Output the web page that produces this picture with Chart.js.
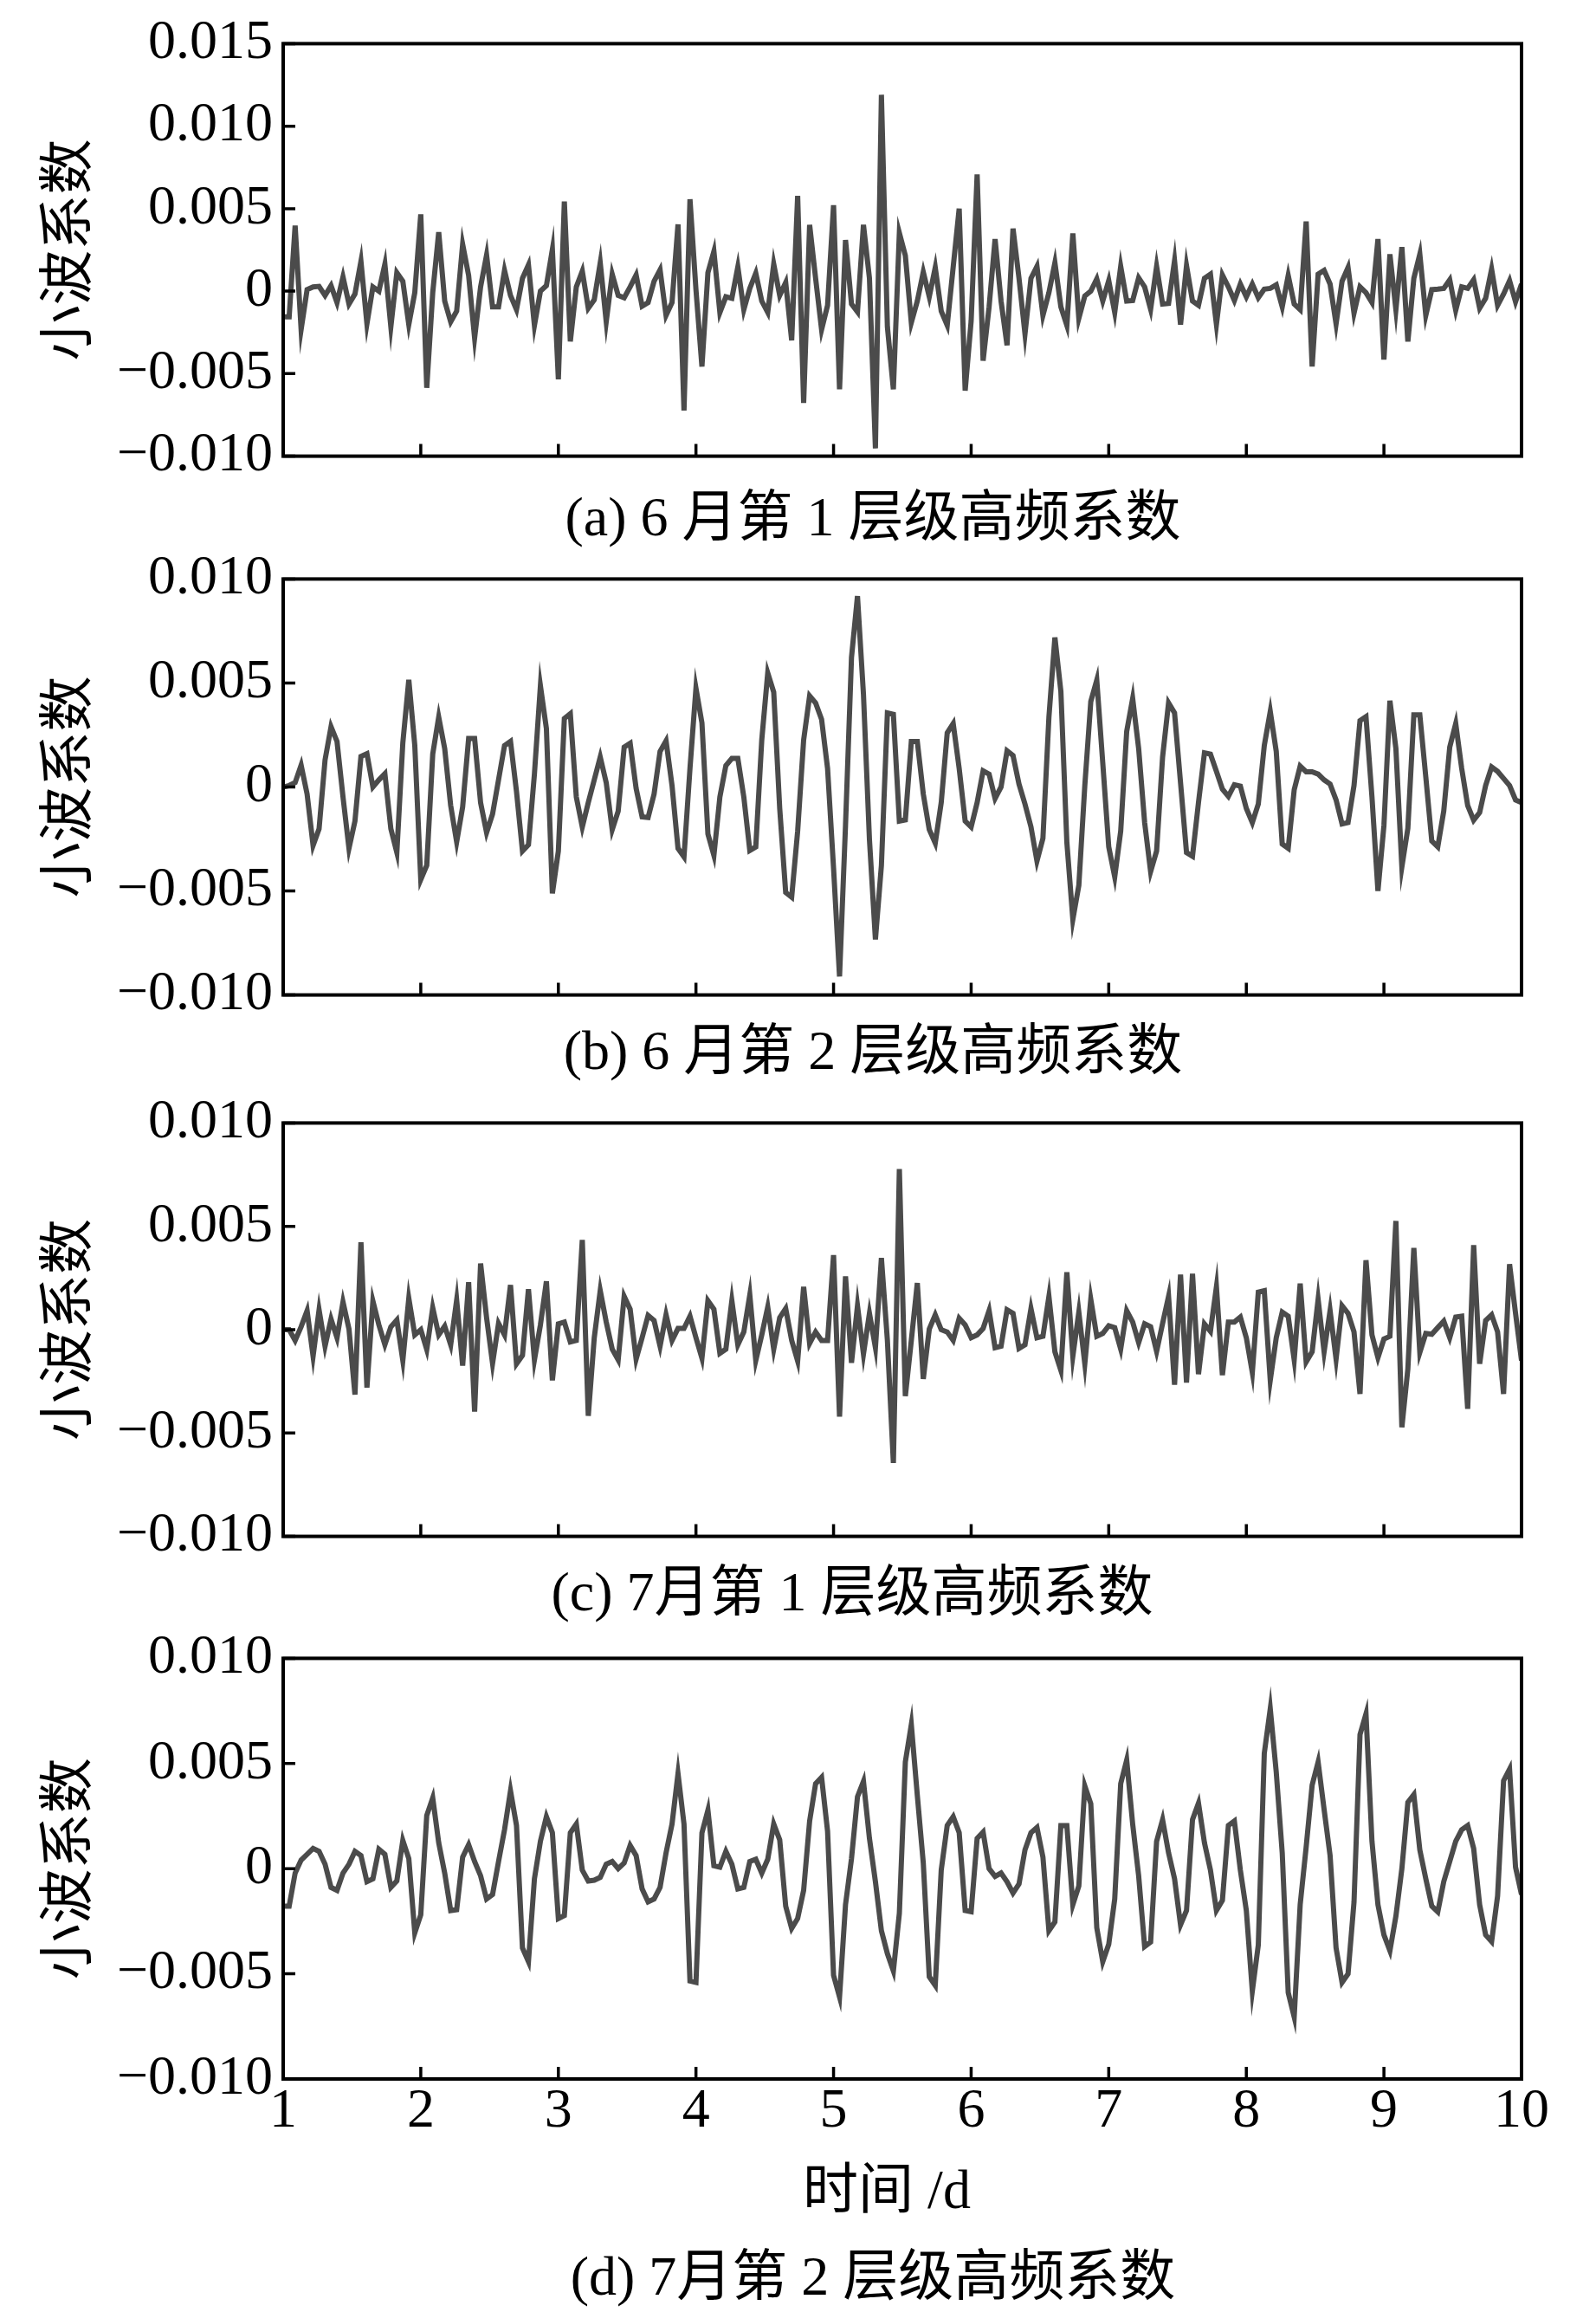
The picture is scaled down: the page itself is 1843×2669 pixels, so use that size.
<!DOCTYPE html>
<html>
<head>
<meta charset="utf-8">
<title>小波系数</title>
<script src="https://cdn.jsdelivr.net/npm/chart.js@4"></script>
<style>
    body { margin: 0; background: #fff; }
    #page { position: relative; width: 1843px; height: 2669px; background: #fff; }
    canvas { position: absolute; left: 0; }
    .cap {
        position: absolute;
        font-size: 64px;
        line-height: 64px;
        font-family: "Liberation Serif", "Noto Sans CJK SC", serif;
        color: #000;
        white-space: pre;
        transform: translateX(-50%);
    }
</style>
</head>
<body>
<div id="page">
    <canvas id="chartA" width="1843" height="577" style="top:0px"></canvas>
    <div class="cap" style="left:1008px; top:565px">(a) 6 月第 1 层级高频系数</div>

    <canvas id="chartB" width="1843" height="581" style="top:618px"></canvas>
    <div class="cap" style="left:1008px; top:1181px">(b) 6 月第 2 层级高频系数</div>

    <canvas id="chartC" width="1843" height="578" style="top:1246px"></canvas>
    <div class="cap" style="left:984px; top:1806px">(c) 7月第 1 层级高频系数</div>

    <canvas id="chartD" width="1843" height="701" style="top:1864px"></canvas>
    <div class="cap" style="left:1024px; top:2496px">时间 /d</div>
    <div class="cap" style="left:1008px; top:2596px">(d) 7月第 2 层级高频系数</div>
</div>

<script>
// x axis: days 1..10, 23 samples per day (208 samples per series)
const days = [1, 2, 3, 4, 5, 6, 7, 8, 9, 10];
const samplesPerDay = 23;

const yTicksWide = [-0.010, -0.005, 0, 0.005, 0.010, 0.015];
const yTicksNarrow = [-0.010, -0.005, 0, 0.005, 0.010];

// (a) June, level 1
const juneLevel1 = [
    -0.00155, -0.00155, 0.00397, -0.00233, 0.00009, 0.00026, 0.00029, -0.00026, 0.00034, -0.00069,
    0.00086, -0.00078, -0.00017, 0.00181, -0.00198, 0.00026, 0, 0.00164, -0.00216, 0.00112,
    0.00060, -0.00202, -0.00009, 0.00466, -0.00586, -0.00009, 0.00357, -0.00060, -0.00186, -0.00121,
    0.00284, 0.00095, -0.00284, 0.00026, 0.00219, -0.00095, -0.00095, 0.00126, -0.00026, -0.00112,
    0.00078, 0.00159, -0.00207, 0, 0.00034, 0.00253, -0.00534, 0.00543, -0.00305, 0.00026,
    0.00121, -0.00103, -0.00052, 0.00172, -0.00184, 0.00103, -0.00026, -0.00040, 0.00026, 0.00098,
    -0.00091, -0.00069, 0.00060, 0.00129, -0.00147, -0.00069, 0.00405, -0.00724, 0.00557, 0.00009,
    -0.00457, 0.00112, 0.00241, -0.00129, -0.00034, -0.00043, 0.00147, -0.00112, 0.00017, 0.00109,
    -0.00060, -0.00129, 0.00164, -0.00026, 0.00052, -0.00298, 0.00578, -0.00678, 0.00402, 0.00078,
    -0.00233, -0.00086, 0.00521, -0.00595, 0.00310, -0.00078, -0.00126, 0.00402, 0.00078, -0.00953,
    0.01190, -0.00216, -0.00595, 0.00353, 0.00216, -0.00190, -0.00060, 0.00116, -0.00034, 0.00143,
    -0.00121, -0.00207, 0.00147, 0.00500, -0.00603, -0.00181, 0.00707, -0.00422, -0.00095, 0.00316,
    -0.00060, -0.00328, 0.00379, 0.00078, -0.00259, 0.00078, 0.00150, -0.00147, -0.00009, 0.00172,
    -0.00095, -0.00207, 0.00350, -0.00164, -0.00029, 0, 0.00074, -0.00060, 0.00064, -0.00129,
    0.00150, -0.00060, -0.00057, 0.00081, 0.00026, -0.00109, 0.00150, -0.00078, -0.00074, 0.00184,
    -0.00202, 0.00155, -0.00060, -0.00086, 0.00078, 0.00103, -0.00202, 0.00098, 0.00026, -0.00057,
    0.00043, -0.00034, 0.00043, -0.00040, 0.00012, 0.00017, 0.00038, -0.00095, 0.00095, -0.00078,
    -0.00112, 0.00422, -0.00457, 0.00103, 0.00126, 0.00043, -0.00198, 0.00060, 0.00143, -0.00133,
    0.00026, -0.00009, -0.00069, 0.00316, -0.00414, 0.00224, -0.00112, 0.00267, -0.00305, 0.00078,
    0.00224, -0.00147, 0.00009, 0.00012, 0.00017, 0.00069, -0.00116, 0.00026, 0.00017, 0.00069,
    -0.00103, -0.00043, 0.00133, -0.00086, -0.00017, 0.00064, -0.00064, 0.00043
];

// (b) June, level 2
const juneLevel2 = [
    0, 0.00007, 0.00021, 0.00105, -0.00034, -0.00281, -0.00201, 0.00130, 0.00290, 0.00219,
    -0.00048, -0.00295, -0.00164, 0.00147, 0.00160, 0, 0.00034, 0.00064, -0.00201, -0.00315,
    0.00212, 0.00515, 0.00200, -0.00445, -0.00377, 0.00158, 0.00336, 0.00185, -0.00089, -0.00264,
    -0.00096, 0.00233, 0.00233, -0.00075, -0.00219, -0.00130, 0.00034, 0.00199, 0.00219, -0.00021,
    -0.00308, -0.00278, 0.00062, 0.00486, 0.00281, -0.00512, -0.00308, 0.00329, 0.00352, -0.00048,
    -0.00192, -0.00075, 0.00034, 0.00144, 0.00021, -0.00205, -0.00116, 0.00192, 0.00210, -0.00007,
    -0.00144, -0.00147, -0.00034, 0.00171, 0.00222, 0.00007, -0.00295, -0.00336, 0.00089, 0.00475,
    0.00308, -0.00226, -0.00329, -0.00048, 0.00103, 0.00137, 0.00137, -0.00048, -0.00305, -0.00288,
    0.00226, 0.00548, 0.00456, -0.00103, -0.00507, -0.00530, -0.00212, 0.00226, 0.00438, 0.00404,
    0.00325, 0.00089, -0.00390, -0.00911, -0.00185, 0.00623, 0.00918, 0.00445, -0.00253, -0.00733,
    -0.00377, 0.00356, 0.00349, -0.00164, -0.00158, 0.00219, 0.00219, -0.00034, -0.00205, -0.00270,
    -0.00075, 0.00260, 0.00305, 0.00089, -0.00164, -0.00192, -0.00075, 0.00078, 0.00062, -0.00055,
    0, 0.00174, 0.00151, 0.00014, -0.00082, -0.00192, -0.00356, -0.00247, 0.00336, 0.00719,
    0.00459, -0.00267, -0.00637, -0.00473, 0.00007, 0.00411, 0.00514, 0.00116, -0.00288, -0.00432,
    -0.00212, 0.00267, 0.00425, 0.00185, -0.00171, -0.00407, -0.00308, 0.00144, 0.00404, 0.00356,
    0.00021, -0.00315, -0.00333, -0.00075, 0.00164, 0.00158, 0.00075, -0.00010, -0.00045, 0.00011,
    0.00004, -0.00103, -0.00171, -0.00082, 0.00199, 0.00363, 0.00171, -0.00274, -0.00295, -0.00014,
    0.00100, 0.00073, 0.00073, 0.00062, 0.00034, 0.00014, -0.00062, -0.00178, -0.00171, 0.00007,
    0.00319, 0.00338, -0.00048, -0.00500, -0.00185, 0.00415, 0.00185, -0.00384, -0.00199, 0.00347,
    0.00347, 0.00048, -0.00260, -0.00288, -0.00116, 0.00192, 0.00305, 0.00089, -0.00089, -0.00160,
    -0.00123, 0.00007, 0.00096, 0.00075, 0.00041, 0.00007, -0.00062, -0.00075
];

// (c) July, level 1
const julyLevel1 = [
    0, 0, -0.00052, 0.00014, 0.00092, -0.00128, 0.00096, -0.00080, 0.00051, -0.00039,
    0.00134, 0.00003, -0.00314, 0.00423, -0.00280, 0.00138, 0.00023, -0.00073, 0.00014, 0.00047,
    -0.00149, 0.00152, -0.00025, 0, -0.00096, 0.00106, -0.00025, 0.00017, -0.00073, 0.00143,
    -0.00174, 0.00230, -0.00397, 0.00320, 0.00058, -0.00163, 0.00030, -0.00025, 0.00216, -0.00165,
    -0.00124, 0.00196, -0.00146, 0.00023, 0.00234, -0.00245, 0.00028, 0.00037, -0.00059, -0.00052,
    0.00434, -0.00417, -0.00039, 0.00189, 0.00037, -0.00094, -0.00146, 0.00161, 0.00099, -0.00142,
    -0.00039, 0.00069, 0.00044, -0.00080, 0.00072, -0.00052, 0.00006, 0.00006, 0.00065, -0.00039,
    -0.00138, 0.00140, 0.00099, -0.00114, -0.00094, 0.00140, -0.00073, -0.00011, 0.00168, -0.00149,
    -0.00025, 0.00110, -0.00094, 0.00058, 0.00102, -0.00052, -0.00152, 0.00207, -0.00066, -0.00011,
    -0.00052, -0.00052, 0.00361, -0.00421, 0.00258, -0.00160, 0.00116, -0.00118, 0.00079, -0.00087,
    0.00347, -0.00052, -0.00645, 0.00777, -0.00321, -0.00052, 0.00226, -0.00238, 0.00003, 0.00072,
    0, -0.00011, -0.00052, 0.00055, 0.00023, -0.00039, -0.00025, 0.00006, 0.00092, -0.00087,
    -0.00080, 0.00096, 0.00079, -0.00091, -0.00073, 0.00102, -0.00039, -0.00032, 0.00161, -0.00107,
    -0.00197, 0.00278, -0.00128, 0.00085, -0.00165, 0.00147, -0.00032, -0.00018, 0.00019, 0.00010,
    -0.00094, 0.00092, 0.00037, -0.00063, 0.00028, 0.00014, -0.00105, 0.00030, 0.00161, -0.00266,
    0.00267, -0.00256, 0.00271, -0.00215, 0.00028, -0.00008, 0.00207, -0.00220, 0.00037, 0.00037,
    0.00061, -0.00039, -0.00207, 0.00182, 0.00189, -0.00245, -0.00039, 0.00085, 0.00065, -0.00146,
    0.00223, -0.00156, -0.00107, 0.00147, -0.00107, 0.00092, -0.00142, 0.00116, 0.00079, -0.00011,
    -0.00311, 0.00336, -0.00025, -0.00135, -0.00045, -0.00032, 0.00526, -0.00472, -0.00190, 0.00395,
    -0.00110, -0.00018, -0.00022, 0.00010, 0.00041, -0.00039, 0.00061, 0.00065, -0.00383, 0.00409,
    -0.00165, 0.00044, 0.00072, -0.00011, -0.00311, 0.00317, 0.00079, -0.00149
];

// (d) July, level 2
const julyLevel2 = [
    -0.00178, -0.00178, -0.00021, 0.00041, 0.00068, 0.00096, 0.00082, 0.00021, -0.00089, -0.00103,
    -0.00021, 0.00021, 0.00082, 0.00062, -0.00062, -0.00048, 0.00092, 0.00068, -0.00089, -0.00058,
    0.00134, 0.00048, -0.00305, -0.00219, 0.00253, 0.00336, 0.00123, -0.00021, -0.00199, -0.00195,
    0.00055, 0.00114, 0.00034, -0.00034, -0.00144, -0.00123, 0.00034, 0.00185, 0.00370, 0.00205,
    -0.00377, -0.00442, -0.00048, 0.00130, 0.00247, 0.00171, -0.00237, -0.00223, 0.00171, 0.00212,
    -0.00007, -0.00059, -0.00055, -0.00041, 0.00021, 0.00034, 0, 0.00027, 0.00110, 0.00062,
    -0.00096, -0.00158, -0.00144, -0.00089, 0.00075, 0.00212, 0.00452, 0.00212, -0.00534, -0.00541,
    0.00170, 0.00278, 0.00014, 0.00007, 0.00082, 0.00021, -0.00096, -0.00089, 0.00034, 0.00045,
    -0.00021, 0.00045, 0.00212, 0.00137, -0.00178, -0.00284, -0.00237, -0.00103, 0.00226, 0.00404,
    0.00434, 0.00178, -0.00507, -0.00610, -0.00171, 0.00048, 0.00342, 0.00415, 0.00144, -0.00062,
    -0.00295, -0.00404, -0.00486, -0.00212, 0.00507, 0.00685, 0.00349, 0.00027, -0.00514, -0.00555,
    -0.00007, 0.00205, 0.00247, 0.00171, -0.00199, -0.00205, 0.00144, 0.00174, 0, -0.00037,
    -0.00021, -0.00062, -0.00116, -0.00073, 0.00089, 0.00171, 0.00196, 0.00055, -0.00295, -0.00253,
    0.00205, 0.00205, -0.00171, -0.00082, 0.00393, 0.00308, -0.00281, -0.00442, -0.00360, -0.00144,
    0.00404, 0.00516, 0.00212, -0.00034, -0.00370, -0.00349, 0.00130, 0.00233, 0.00075, -0.00048,
    -0.00267, -0.00199, 0.00233, 0.00311, 0.00123, -0.00007, -0.00199, -0.00151, 0.00205, 0.00226,
    -0.00007, -0.00199, -0.00582, -0.00363, 0.00548, 0.00760, 0.00459, 0.00075, -0.00589, -0.00705,
    -0.00171, 0.00103, 0.00397, 0.00507, 0.00281, 0.00062, -0.00377, -0.00541, -0.00500, -0.00158,
    0.00637, 0.00736, 0.00130, -0.00171, -0.00315, -0.00390, -0.00226, 0, 0.00315, 0.00352,
    0.00089, -0.00048, -0.00178, -0.00205, -0.00062, 0.00034, 0.00130, 0.00185, 0.00205, 0.00096,
    -0.00171, -0.00315, -0.00347, -0.00130, 0.00418, 0.00473, 0.00007, -0.00123
];

const serif = '"Liberation Serif", "Noto Sans CJK SC", serif';
const lineColor = '#4b4b4b';

function toPoints(values) {
    return values.map((v, i) => ({ x: days[0] + i / samplesPerDay, y: v }));
}

function formatTick(v) {
    if (Math.abs(v) < 1e-9) {
        return '0';
    }
    return (v < 0 ? '\u2212' : '') + Math.abs(v).toFixed(3);
}

// box around the plot and short tick marks pointing inwards
const frameAndTicks = {
    id: 'frameAndTicks',
    afterDatasetsDraw(chart) {
        const { ctx, chartArea: a, scales: { x, y } } = chart;
        ctx.save();
        ctx.strokeStyle = '#000';
        ctx.lineWidth = 3.5;
        ctx.beginPath();
        x.ticks.forEach(t => {
            const px = x.getPixelForValue(t.value);
            ctx.moveTo(px, a.bottom);
            ctx.lineTo(px, a.bottom - 14);
        });
        y.ticks.forEach(t => {
            const py = y.getPixelForValue(t.value);
            ctx.moveTo(a.left, py);
            ctx.lineTo(a.left + 14, py);
        });
        ctx.stroke();
        ctx.lineWidth = 4;
        ctx.strokeRect(a.left, a.top, a.right - a.left, a.bottom - a.top);
        ctx.restore();
    }
};

function drawPanel(canvasId, values, yTicks, showX) {
    const canvas = document.getElementById(canvasId);
    return new Chart(canvas, {
        type: 'line',
        data: {
            datasets: [{
                data: toPoints(values),
                borderColor: lineColor,
                borderWidth: 6,
                pointRadius: 0,
                tension: 0,
                fill: false
            }]
        },
        options: {
            responsive: false,
            animation: false,
            devicePixelRatio: 1,
            layout: { padding: { top: 49, right: 86, bottom: 0, left: 0 } },
            plugins: { legend: { display: false }, tooltip: { enabled: false } },
            scales: {
                x: {
                    type: 'linear',
                    min: days[0],
                    max: days[days.length - 1],
                    grid: { display: false, drawTicks: false },
                    border: { display: false },
                    afterBuildTicks: s => { s.ticks = days.map(d => ({ value: d })); },
                    afterFit: s => { s.height = showX ? 165 : 45; },
                    ticks: {
                        display: showX,
                        autoSkip: false,
                        maxRotation: 0,
                        padding: 0,
                        color: '#000',
                        font: { family: serif, size: 64 }
                    }
                },
                y: {
                    min: yTicks[0],
                    max: yTicks[yTicks.length - 1],
                    grid: { display: false, drawTicks: false },
                    border: { display: false },
                    afterBuildTicks: s => { s.ticks = yTicks.map(v => ({ value: v })); },
                    afterFit: s => { s.width = 327; },
                    ticks: {
                        callback: formatTick,
                        padding: 12,
                        color: '#000',
                        font: { family: serif, size: 64 }
                    },
                    title: {
                        display: true,
                        text: '小波系数',
                        color: '#000',
                        padding: { top: 44, bottom: 0 },
                        font: { family: serif, size: 64 }
                    }
                }
            }
        },
        plugins: [frameAndTicks]
    });
}

drawPanel('chartA', juneLevel1, yTicksWide, false);
drawPanel('chartB', juneLevel2, yTicksNarrow, false);
drawPanel('chartC', julyLevel1, yTicksNarrow, false);
drawPanel('chartD', julyLevel2, yTicksNarrow, true);
</script>
</body>
</html>
